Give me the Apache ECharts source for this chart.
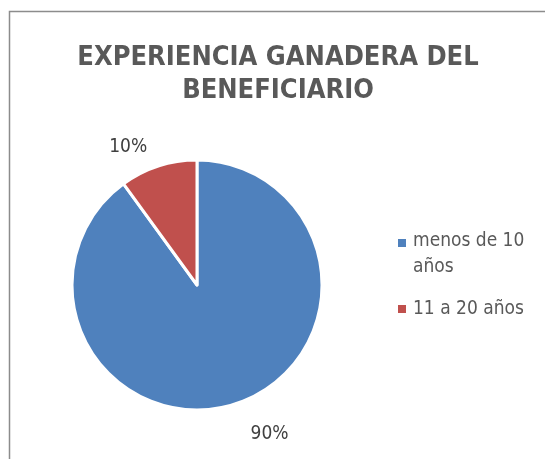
<!DOCTYPE html>
<html>
<head>
<meta charset="utf-8">
<script src="https://cdn.jsdelivr.net/npm/echarts@6/dist/echarts.min.js"></script>
<style>
html, body { margin: 0; padding: 0; background: #fff; }
#chart { width: 545px; height: 459px; }
</style>
</head>
<body>
<div id="chart"></div>
<script>
var titleText = 'EXPERIENCIA GANADERA DEL\nBENEFICIARIO';
var categories = ['menos de 10\naños', '11 a 20 años'];
var values = [90, 10];
var colors = ['#4F81BD', '#C0504D'];
var labelGaps = [32, 20];

var fontNarrow = '"DejaVu Sans Condensed", "Liberation Sans", sans-serif';

// legend squares: first one sits on the first text line
var legendIcons = [
	'path://M0,2h8v8h-8z M0,0h0.01 M0,34h0.01',
	'path://M0,13h8v8h-8z M0,0h0.01 M0,34h0.01'
];

var pieData = [];
var legendData = [];
for (var i = 0; i < categories.length; i++) {
	pieData.push({
		name : categories[i],
		value : values[i],
		itemStyle : { color : colors[i] },
		labelLine : { length : labelGaps[i], length2 : 0 }
	});
	legendData.push({ name : categories[i], icon : legendIcons[i] });
}

var chart = echarts.init(document.getElementById('chart'));
chart.setOption({
	animation : false,
	graphic : [ {
		type : 'rect',
		shape : { x : 9.5, y : 11.5, width : 600, height : 500 },
		style : { fill : 'none', stroke : '#8c8c8c', lineWidth : 1.5 },
		silent : true
	} ],
	title : {
		text : titleText,
		left : 273,
		top : 36,
		textAlign : 'center',
		textStyle : {
			fontFamily : fontNarrow,
			fontWeight : 'bold',
			fontSize : 27,
			lineHeight : 33,
			color : '#595959'
		}
	},
	legend : {
		orient : 'vertical',
		left : 393,
		top : 223,
		itemWidth : 8,
		itemHeight : 34,
		itemGap : 12,
		itemStyle : { borderWidth : 0 },
		textStyle : {
			fontFamily : fontNarrow,
			fontSize : 19,
			lineHeight : 26,
			color : '#595959',
			padding : [ 0, 0, 0, 2 ]
		},
		data : legendData
	},
	series : [ {
		type : 'pie',
		center : [ 197, 285 ],
		radius : 125,
		startAngle : 90,
		clockwise : true,
		itemStyle : { borderColor : '#fff', borderWidth : 3 },
		label : {
			show : true,
			position : 'outside',
			formatter : '{d}%',
			fontFamily : fontNarrow,
			fontSize : 19,
			color : '#404040'
		},
		labelLine : { show : false },
		data : pieData
	} ]
});
</script>
</body>
</html>
